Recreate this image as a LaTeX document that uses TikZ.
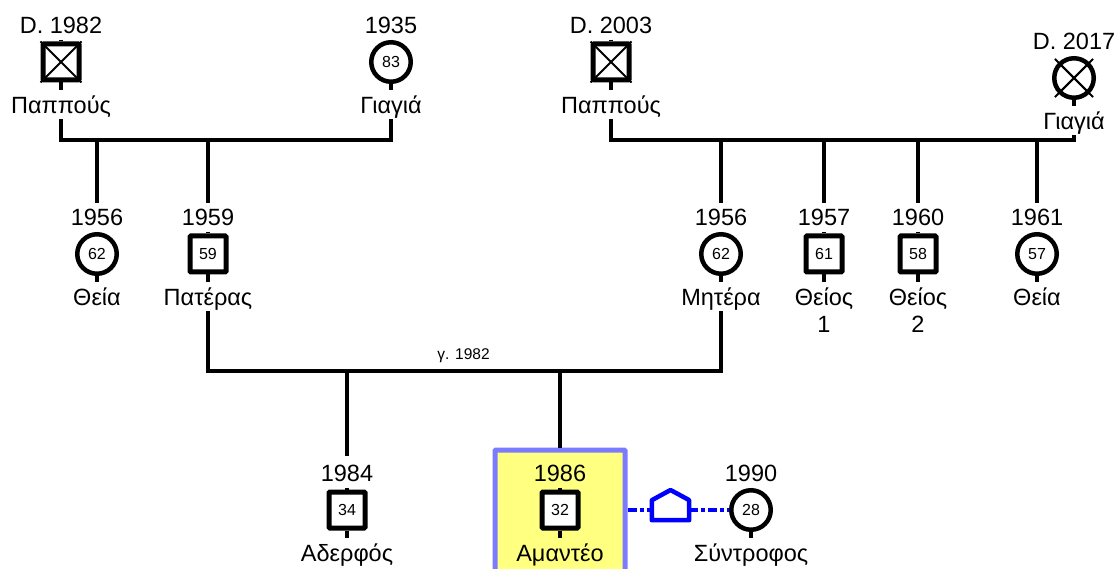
\documentclass[tikz,border=0pt]{standalone}
\usepackage{xcolor}
\usepackage{fontspec}
\setmainfont{Liberation Sans}
\definecolor{selfyellow}{HTML}{FFFF80}
\definecolor{selfblue}{HTML}{7B7BFF}
\definecolor{bondblue}{HTML}{0000FF}
\tikzset{
  malenode/.style={rectangle,draw,line width=5,rounded corners=1,fill=white,minimum size=36,inner sep=0,font=\fontsize{16}{18}\selectfont},
  femalenode/.style={circle,draw,line width=4.5,fill=white,minimum size=39.5,inner sep=0,font=\fontsize{16}{18}\selectfont},
  yearnode/.style={font=\fontsize{23.5}{27}\selectfont,text height=16,text depth=0,inner xsep=0,inner ysep=6},
  namenode/.style={font=\fontsize{23.5}{27}\selectfont,align=center,text depth=0,inner xsep=0,inner ysep=6},
  tieline/.style={line width=3.2},
  crossline/.style={line width=2,shorten <=-5pt,shorten >=-5pt},
  bondline/.style={bondblue,line width=3.5,dash pattern=on 9pt off 3pt on 4pt off 3pt}
}
\begin{document}
\begin{tikzpicture}[x=1pt,y=-1pt]
\useasboundingbox (0,0) rectangle (1116,569);
\clip (0,0) rectangle (1116,569);
\node [draw=selfblue,fill=selfyellow,line width=5,rounded corners=1,minimum width=130,minimum height=142,inner sep=0] (selfbox) at (560,521) {};
% people
\foreach \shp/\id/\x/\y/\yr/\age/\nm/\nmh in {
  malenode/papL/61/62/D. 1982//Παππούς/17,
  femalenode/giaL/391/62/1935/83/Γιαγιά/17,
  malenode/papR/611/62/D. 2003//Παππούς/17,
  femalenode/giaR/1074/78/D. 2017//Γιαγιά/17,
  femalenode/aunt/97/254/1956/62/Θεία/17,
  malenode/father/208/254/1959/59/Πατέρας/17,
  femalenode/mother/721/254/1956/62/Μητέρα/17,
  malenode/uncleA/824/254/1957/61/{Θείος\\1}/44,
  malenode/uncleB/918/254/1960/58/{Θείος\\2}/44,
  femalenode/auntB/1037/254/1961/57/Θεία/17,
  malenode/brother/347/510/1984/34/Αδερφός/17,
  malenode/self/560/510/1986/32/Αμαντέο/17,
  femalenode/partner/751/510/1990/28/Σύντροφος/17}
{ \node [\shp] (\id) at (\x,\y) {\age};
  \node [yearnode] (\id year) at (\x,\y-36.5) {\yr};
  \node [namenode,text height=\nmh,anchor=north] (\id name) at (\x,\y+28) {\nm};
  \draw [tieline] (\id year.south) -- (\id.north);
  \draw [tieline] (\id.south) -- (\id name.north);}
% crosses
\foreach \id in {papL,papR,giaR}
{ \draw [line width=2] (\id.north west) -- (\id.south east);
  \draw [line width=2] (\id.north east) -- (\id.south west);}
\draw [crossline] (giaR.north west) -- (giaR.south east);
\draw [crossline] (giaR.north east) -- (giaR.south west);
% families
\coordinate (famL) at (226,140);
\coordinate (famR) at (842,140);
\coordinate (marriage) at (463,371);
\draw [tieline] (papLname.south) |- (famL) -| (giaLname.south);
\draw [tieline] (papRname.south) |- (famR) -| (giaRname.south);
\draw [tieline] (fathername.south) |- (marriage) -| (mothername.south);
\foreach \id in {aunt,father}
{ \draw [tieline] (famL -| \id year.north) -- (\id year.north);}
\foreach \id in {mother,uncleA,uncleB,auntB}
{ \draw [tieline] (famR -| \id year.north) -- (\id year.north);}
\draw [tieline,shorten >=3pt] (marriage -| brotheryear.north) -- (brotheryear.north);
\draw [tieline] (marriage -| selfbox.north) -- (selfbox.north);
\node [font=\fontsize{15.5}{18}\selectfont,inner sep=0] (marriagelabel) at (463.5,356) {γ. 1982};
% cohabiting
\node [minimum width=37,minimum height=30,inner sep=0] (house) at (670.5,505) {};
\draw [bondblue,line width=4.5,line join=round] (house.south west) -- ++(0,-20) -- (670.5,490) -- (689,500) -- (house.south east) -- cycle;
\coordinate (bondL) at (selfbox.east |- partner);
\coordinate (bondH) at (house.west |- partner);
\coordinate (bondE) at (house.east |- partner);
\draw [bondline] (bondL) -- (bondH);
\draw [bondline] (bondE) -- (partner.west);
\end{tikzpicture}
\end{document}
